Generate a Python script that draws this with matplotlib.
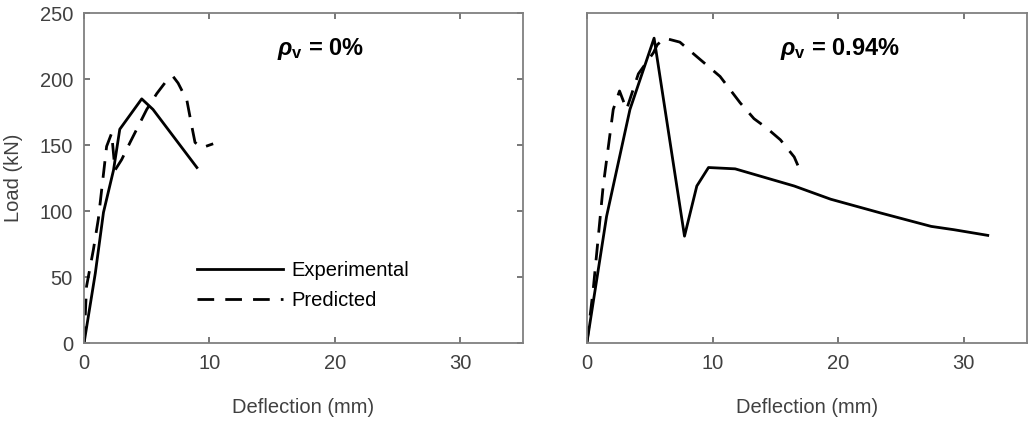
import matplotlib
matplotlib.use('Agg')
import matplotlib.pyplot as plt

plt.rcParams['font.family'] = ['Liberation Sans', 'DejaVu Sans']
plt.rcParams['mathtext.fontset'] = 'custom'
plt.rcParams['mathtext.it'] = 'Liberation Sans:italic:bold'
plt.rcParams['mathtext.bf'] = 'Liberation Sans:bold'
plt.rcParams['mathtext.rm'] = 'Liberation Sans'

# rho_v = 0 %
exp0_x = [0, 0.9, 1.55, 2.35, 2.85, 4.6, 5.5, 9.0]
exp0_y = [0, 53, 99, 131, 162, 185, 177, 133]
pred0_x = [0, 0.2, 0.75, 1.14, 1.8, 2.2, 2.47, 3.0, 3.67, 5.0, 5.8, 6.6, 7.1, 7.5, 8.2, 8.6, 8.85, 9.4, 10.3]
pred0_y = [0, 43, 71, 94, 149, 159, 131, 139, 152, 177, 189, 199, 202, 197, 184, 164, 152, 148, 151]

# rho_v = 0.94 %
exp94_x = [0, 1.57, 3.43, 5.35, 7.77, 8.75, 9.68, 11.8, 16.5, 19.4, 23.4, 27.4, 29.2, 31.9]
exp94_y = [0, 96, 177, 231, 81, 119, 133, 132, 119, 109, 98.5, 88.4, 85.9, 81.6]
pred94_x = [0, 0.5, 1.3, 2.1, 2.6, 3.16, 4.1, 5.3, 5.6, 6.2, 7.4, 8.75, 10.6, 11.4, 12.2, 13.3, 14.3, 15.4, 16.5, 17.0]
pred94_y = [0, 40, 119, 177, 191, 177, 204, 220, 226, 231, 228, 217, 202, 192, 182, 170, 163, 154, 141, 130]

panels = [
    (exp0_x, exp0_y, pred0_x, pred0_y, r'$\rho_{\mathbf{v}}$ = 0%'),
    (exp94_x, exp94_y, pred94_x, pred94_y, r'$\rho_{\mathbf{v}}$ = 0.94%'),
]

fig = plt.figure(figsize=(10.35, 4.22), dpi=100)
axes = [fig.add_axes([0.0812, 0.187, 0.424, 0.782]),
        fig.add_axes([0.567, 0.187, 0.425, 0.782])]

gray = '#404040'
for i, (ax, (ex, ey, px, py, label)) in enumerate(zip(axes, panels)):
    ax.plot(ex, ey, color='black', lw=2.0, label='Experimental')
    ax.plot(px, py, color='black', lw=2.0, dashes=(6, 4), label='Predicted')
    ax.set_xlim(0, 35)
    ax.set_ylim(0, 250)
    ax.set_xticks([0, 10, 20, 30])
    ax.set_yticks([0, 50, 100, 150, 200, 250])
    ax.tick_params(direction='in', top=True, right=True, length=4, width=1.2,
                   color='#606060', labelsize=14.5, labelcolor=gray, pad=8)
    for s in ax.spines.values():
        s.set_color('#808080')
        s.set_linewidth(1.3)
    ax.set_xlabel('Deflection (mm)', fontsize=14.5, color=gray, labelpad=18)
    ax.text(15.4, 223, label, fontsize=17, fontweight='bold', va='center')
    if i == 0:
        ax.set_ylabel('Load (kN)', fontsize=14.5, color=gray, labelpad=12)
        ax.legend(loc='upper left', bbox_to_anchor=(0.257, 0.25), frameon=False,
                  fontsize=14.5, handlelength=4.3, handletextpad=0.4,
                  borderpad=0, borderaxespad=0, labelspacing=0.55)
    else:
        ax.tick_params(left=False, right=False, labelleft=False)

fig.savefig('out.png', dpi=100)
